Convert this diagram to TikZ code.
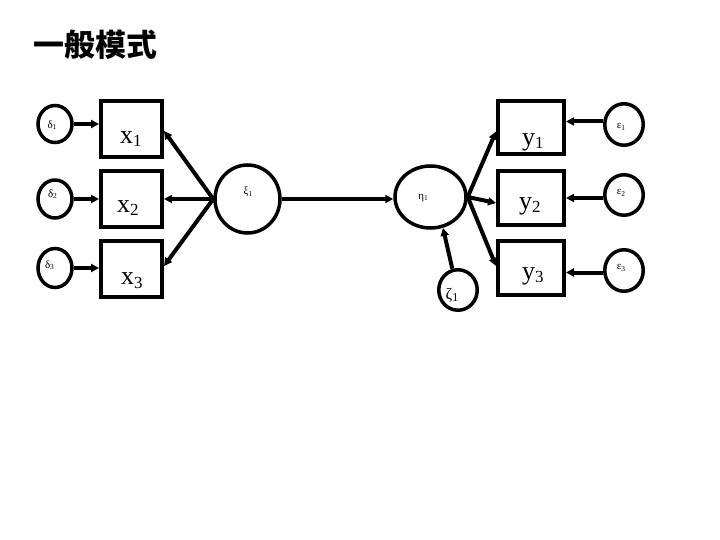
\documentclass[tikz,border=0pt]{standalone}
\usepackage{fontspec}
\setmainfont{Liberation Serif}
\newfontfamily\cjkfont{Noto Sans CJK TC}
\usetikzlibrary{shapes.geometric,arrows.meta}
\newcommand{\boxlbl}[2]{{\fontsize{26}{26}\selectfont #1\raisebox{-3bp}{\fontsize{17}{17}\selectfont #2}}}
\newcommand{\greeklbl}[2]{{\fontsize{11}{11}\selectfont #1\raisebox{-1.5bp}{\fontsize{7.5}{7.5}\selectfont #2}}}
\tikzset{
  lat/.style={draw, ellipse, line width=3.5bp, inner sep=0pt},
  obs/.style={draw, rectangle, line width=4bp, inner sep=0pt},
  arr/.style={line width=4bp, -{Triangle[length=8bp,width=8bp]}},
  glbl/.style={inner sep=0pt},
  blbl/.style={inner sep=0pt, anchor=base west}
}
\begin{document}
\begin{tikzpicture}[x=1bp,y=-1bp]
\useasboundingbox (0,0) rectangle (720,540);
% title
\node[inner sep=0pt] (title) at (95.5,45) {\cjkfont\bfseries\fontsize{31}{31}\selectfont 一般模式};
% delta ellipses
\node[lat, minimum width=34bp, minimum height=37bp] (d1) at (55,124) {};
\node[lat, minimum width=34bp, minimum height=38bp] (d2) at (55,199) {};
\node[lat, minimum width=34bp, minimum height=39bp] (d3) at (55,268) {};
\node[glbl] (d1l) at (52,125) {\greeklbl{δ}{1}};
\node[glbl] (d2l) at (52.5,194) {\greeklbl{δ}{2}};
\node[glbl] (d3l) at (49.5,265) {\greeklbl{δ}{3}};
% x boxes
\node[obs, minimum width=61bp, minimum height=56bp] (x1) at (131.5,129) {};
\node[obs, minimum width=61bp, minimum height=56bp] (x2) at (131.5,199) {};
\node[obs, minimum width=61bp, minimum height=56bp] (x3) at (131.5,269) {};
\node[blbl] (x1l) at (120,144) {\boxlbl{x}{1}};
\node[blbl] (x2l) at (117,213) {\boxlbl{x}{2}};
\node[blbl] (x3l) at (121,285) {\boxlbl{x}{3}};
% xi
\node[lat, minimum width=65bp, minimum height=68bp] (xi) at (247.5,199) {};
\node[glbl] (xil) at (248,192) {\greeklbl{ξ}{1}};
% eta
\node[lat, minimum width=71bp, minimum height=62bp] (eta) at (430.5,197) {};
\node[glbl] (etal) at (423,198) {\greeklbl{η}{1}};
% zeta
\node[lat, minimum width=38.5bp, minimum height=40.5bp] (z1) at (458,290) {};
\node[glbl] (z1l) at (452,295) {{\fontsize{16}{16}\selectfont ζ\raisebox{-2bp}{\fontsize{12}{12}\selectfont 1}}};
% y boxes
\node[obs, minimum width=66bp, minimum height=53bp] (y1) at (531,127.5) {};
\node[obs, minimum width=66bp, minimum height=54bp] (y2) at (531,198) {};
\node[obs, minimum width=66bp, minimum height=54bp] (y3) at (531,268) {};
\node[blbl] (y1l) at (522,146) {\boxlbl{y}{1}};
\node[blbl] (y2l) at (519,210) {\boxlbl{y}{2}};
\node[blbl] (y3l) at (522,280) {\boxlbl{y}{3}};
% epsilon ellipses
\node[lat, minimum width=38.5bp, minimum height=41.5bp] (e1) at (624,124.5) {};
\node[lat, minimum width=38.5bp, minimum height=40.5bp] (e2) at (624,195) {};
\node[lat, minimum width=38.5bp, minimum height=41.5bp] (e3) at (624,270.5) {};
\node[glbl] (e1l) at (621,127) {\greeklbl{ε}{1}};
\node[glbl] (e2l) at (621,193) {\greeklbl{ε}{2}};
\node[glbl] (e3l) at (621,268) {\greeklbl{ε}{3}};
% arrows delta -> x
\draw[arr] (d1.east) -- (d1.east -| x1.west);
\draw[arr] (d2.east) -- (d2.east -| x2.west);
\draw[arr] (d3.east) -- (d3.east -| x3.west);
% xi -> x
\draw[arr] (xi.west) -- ([yshift=-2bp]x1.east);
\draw[arr] (xi.west) -- (x2.east);
\draw[arr] (xi.west) -- ([yshift=3bp]x3.east);
% xi -> eta
\draw[arr] (xi.east) -- (xi.east -| eta.west);
% zeta -> eta
\draw[arr] (z1.105) -- (eta.-68);
% eta -> y
\draw[arr] (eta.east) -- ([yshift=-4bp]y1.west);
\draw[arr] (eta.east) -- ([yshift=-5bp]y2.west);
\draw[arr] (eta.east) -- ([yshift=2bp]y3.west);
% epsilon -> y
\draw[arr] ([yshift=3bp]e1.west) -- ([yshift=3bp]e1.west -| y1.east);
\draw[arr] ([yshift=-3bp]e2.west) -- ([yshift=-3bp]e2.west -| y2.east);
\draw[arr] ([yshift=-2bp]e3.west) -- ([yshift=-2bp]e3.west -| y3.east);
\end{tikzpicture}
\end{document}
